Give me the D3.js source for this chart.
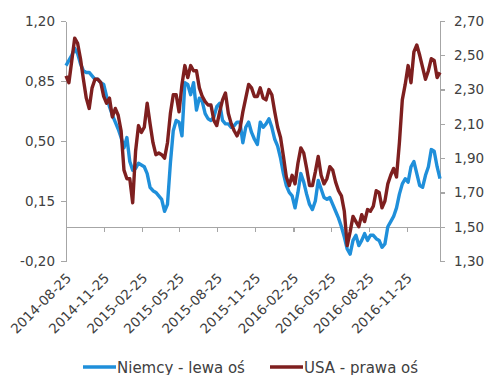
<!DOCTYPE html>
<html>
<head>
<meta charset="utf-8">
<script src="https://cdn.jsdelivr.net/npm/d3@7"></script>
<style>
  html, body { margin: 0; padding: 0; background: #ffffff; }
  svg { display: block; font-family: "DejaVu Sans", sans-serif; }
  .axis path, .axis line { stroke: #a6a6a6; stroke-width: 1.3; shape-rendering: crispEdges; }
  .axis text { fill: #404040; font-size: 13.5px; font-family: "DejaVu Sans", sans-serif; }
</style>
</head>
<body>
<svg id="chart" width="486" height="375"></svg>
<script>
// Weekly (Monday) 10Y government bond yields, %
const startDate = "2014-08-25";
const seriesNames = ["Niemcy - lewa oś", "USA - prawa oś"];
const seriesColors = ["#1f8fda", "#7e1f1f"];

// Germany, left axis
const niemcy = [
  0.94, 0.97, 1.00, 1.04, 1.01, 0.95, 0.91, 0.90, 0.90, 0.88,
  0.86, 0.86, 0.84, 0.83, 0.76, 0.70, 0.65, 0.61, 0.57, 0.52,
  0.46, 0.52, 0.38, 0.33, 0.34, 0.37, 0.36, 0.35, 0.31, 0.23,
  0.21, 0.20, 0.18, 0.16, 0.09, 0.13, 0.37, 0.56, 0.62, 0.61,
  0.53, 0.84, 0.83, 0.77, 0.84, 0.68, 0.75, 0.73, 0.66, 0.63,
  0.62, 0.64, 0.70, 0.72, 0.62, 0.60, 0.60, 0.58, 0.59, 0.61,
  0.61, 0.49, 0.58, 0.61, 0.55, 0.51, 0.48, 0.61, 0.58, 0.60,
  0.63, 0.58, 0.51, 0.47, 0.40, 0.31, 0.24, 0.20, 0.18, 0.11,
  0.20, 0.31, 0.26, 0.19, 0.13, 0.10, 0.15, 0.27, 0.22, 0.17,
  0.16, 0.17, 0.13, 0.09, 0.05, 0.00, -0.06, -0.13, -0.16, -0.08,
  -0.05, -0.11, -0.08, -0.04, -0.08, -0.05, -0.05, -0.07, -0.08, -0.12,
  -0.10, 0.00, 0.03, 0.06, 0.11, 0.19, 0.25, 0.28, 0.26, 0.35,
  0.38, 0.31, 0.24, 0.23, 0.30, 0.35, 0.45, 0.44, 0.35, 0.28
];

// USA, right axis
const usa = [
  2.38, 2.34, 2.47, 2.60, 2.57, 2.48, 2.36, 2.25, 2.19, 2.31,
  2.36, 2.36, 2.34, 2.26, 2.22, 2.25, 2.14, 2.19, 2.15, 2.06,
  1.83, 1.78, 1.78, 1.64, 1.94, 2.09, 2.05, 2.08, 2.22, 2.10,
  1.99, 1.92, 1.93, 1.92, 1.90, 1.99, 2.16, 2.27, 2.27, 2.17,
  2.33, 2.44, 2.37, 2.44, 2.41, 2.41, 2.31, 2.26, 2.23, 2.21,
  2.21, 2.12, 2.09, 2.17, 2.24, 2.28, 2.16, 2.10, 2.06, 2.03,
  2.07, 2.17, 2.25, 2.33, 2.31, 2.26, 2.26, 2.31, 2.25, 2.24,
  2.30, 2.27, 2.17, 2.08, 2.02, 1.91, 1.79, 1.74, 1.80, 1.75,
  1.87, 1.96, 1.93, 1.84, 1.74, 1.74, 1.82, 1.91, 1.80, 1.75,
  1.78, 1.85, 1.83, 1.76, 1.71, 1.68, 1.59, 1.39, 1.47, 1.56,
  1.53, 1.50, 1.57, 1.53, 1.60, 1.59, 1.62, 1.71, 1.70, 1.61,
  1.65, 1.75, 1.80, 1.84, 1.79, 1.99, 2.24, 2.33, 2.44, 2.34,
  2.52, 2.56, 2.50, 2.43, 2.36, 2.41, 2.48, 2.47, 2.37, 2.40
];

const leftTicks = [1.20, 0.85, 0.50, 0.15, -0.20];
const rightTicks = [2.70, 2.50, 2.30, 2.10, 1.90, 1.70, 1.50, 1.30];
const dateTicks = ["2014-08-25", "2014-11-25", "2015-02-25", "2015-05-25", "2015-08-25",
                   "2015-11-25", "2016-02-25", "2016-05-25", "2016-08-25", "2016-11-25"];

const parse = d3.utcParse("%Y-%m-%d");
const fmtDate = d3.utcFormat("%Y-%m-%d");
const start = parse(startDate);
const dates = niemcy.map((_, i) => d3.utcDay.offset(start, 7 * i));
const fmtNum = d => d.toFixed(2).replace(".", ",");

const svg = d3.select("#chart");
const plot = { left: 66, right: 440, top: 21, bottom: 261 };

const x = d3.scaleUtc().domain([dates[0], dates[dates.length - 1]]).range([plot.left, plot.right]);
const yL = d3.scaleLinear().domain([-0.20, 1.20]).range([plot.bottom, plot.top]);
const yR = d3.scaleLinear().domain([1.30, 2.70]).range([plot.bottom, plot.top]);

// Left axis
svg.append("g").attr("class", "axis")
  .attr("transform", `translate(${plot.left},0)`)
  .call(d3.axisLeft(yL).tickValues(leftTicks).tickFormat(fmtNum).tickSize(5).tickSizeOuter(0).tickPadding(6));

// Right axis
svg.append("g").attr("class", "axis")
  .attr("transform", `translate(${plot.right},0)`)
  .call(d3.axisRight(yR).tickValues(rightTicks).tickFormat(fmtNum).tickSize(5).tickSizeOuter(0).tickPadding(9));

// Horizontal axis crossing at zero
const xTickDates = dateTicks.map(parse);
svg.append("g").attr("class", "axis")
  .attr("transform", `translate(0,${yL(0)})`)
  .call(d3.axisBottom(x).tickValues(xTickDates).tickFormat("").tickSize(5).tickSizeOuter(0));

// Rotated date labels below the plot
svg.append("g").attr("class", "axis")
  .selectAll("text")
  .data(xTickDates)
  .join("text")
  .attr("text-anchor", "end")
  .attr("transform", d => `translate(${x(d) + 6},${plot.bottom + 18}) rotate(-45)`)
  .text(d => fmtDate(d));

// Series lines
const lineL = d3.line().x((d, i) => x(dates[i])).y(d => yL(d));
const lineR = d3.line().x((d, i) => x(dates[i])).y(d => yR(d));

svg.append("path")
  .datum(niemcy)
  .attr("fill", "none")
  .attr("stroke", seriesColors[0])
  .attr("stroke-width", 3.4)
  .attr("stroke-linejoin", "round")
  .attr("d", lineL);

svg.append("path")
  .datum(usa)
  .attr("fill", "none")
  .attr("stroke", seriesColors[1])
  .attr("stroke-width", 3.4)
  .attr("stroke-linejoin", "round")
  .attr("d", lineR);

// Legend
const legendItems = [
  { name: seriesNames[0], color: seriesColors[0], x: 83 },
  { name: seriesNames[1], color: seriesColors[1], x: 270 }
];
const legend = svg.append("g").attr("transform", "translate(0,367)");
legendItems.forEach(item => {
  legend.append("line")
    .attr("x1", item.x).attr("x2", item.x + 33)
    .attr("y1", 0).attr("y2", 0)
    .attr("stroke", item.color).attr("stroke-width", 3.4);
  legend.append("text")
    .attr("x", item.x + 34).attr("y", 5.5)
    .attr("fill", "#404040")
    .style("font-size", "15px")
    .text(item.name);
});
</script>
</body>
</html>
